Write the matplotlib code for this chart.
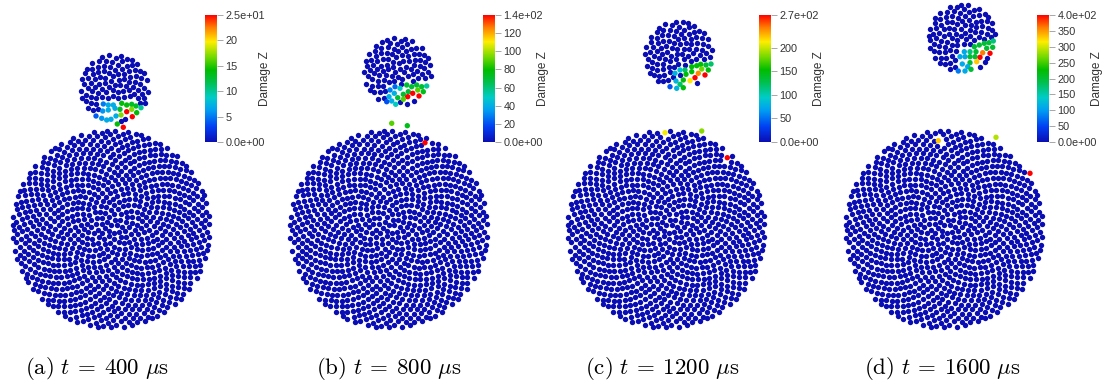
import numpy as np
import matplotlib.pyplot as plt
from matplotlib.colors import LinearSegmentedColormap, Normalize
from matplotlib.cm import ScalarMappable

plt.rcParams['mathtext.fontset'] = 'cm'

W, H = 1109, 390

# panel settings
labels = ['(a)', '(b)', '(c)', '(d)']
times = [400, 800, 1200, 1600]
z_max = [25, 140, 270, 400]
z_ticks = [
    [0, 5, 10, 15, 20, 25],
    [0, 20, 40, 60, 80, 100, 120, 140],
    [0, 50, 100, 150, 200, 270],
    [0, 50, 100, 150, 200, 250, 300, 350, 400],
]

# disk geometry (pixels)
big_centers = [(111, 229), (388.5, 229), (666, 229), (944, 229)]
big_radius = 98.5
big_count = 980
small_centers = [(114.5, 88.5), (397.5, 71.5), (678.5, 55), (962, 38)]
small_radius = 33.5
small_count = 122
small_spin = [0, 35, 70, 105]
caption_x = [97, 389, 662, 942]

# damaged particles per panel: x, y, damage
a_x = [103.3, 108.3, 113.3, 121.7, 126.7, 131.7, 136, 141, 102.7, 108.3, 115, 120,
       131.7, 136.7, 126.7, 121, 132.3, 96, 101.7, 106.7, 111, 116, 117.3, 123.3]
a_y = [104, 105, 105, 103.3, 105, 104.3, 106, 107.7, 111, 110, 108.3, 109.3,
       109.3, 112.7, 111.7, 115, 116.7, 116, 118.3, 120, 119.3, 116, 124, 127.3]
a_z = [5, 7, 7, 14, 14, 13, 13, 10, 6, 7, 7, 13,
       17, 14, 25, 17, 25, 4, 6, 7, 7, 7, 14, 25]

b_x = [390, 395, 400, 406.7, 411.7, 416.7, 421.7, 426.7, 394.3, 397.7, 403.3, 408.3,
       417.7, 423.3, 407.7, 412.7, 419, 403.3, 389, 391.7, 395.7, 386.7, 391.7, 407.3, 425]
b_y = [90, 86.7, 88.3, 85, 86.7, 85, 86.7, 86, 93.3, 97.7, 94.3, 91.7,
       90, 91.7, 96.7, 93.3, 96, 99.3, 96.7, 101, 104.3, 101.7, 123.3, 125.7, 142.7]
b_z = [30, 25, 50, 70, 70, 70, 70, 55, 40, 70, 70, 70,
       90, 75, 140, 140, 140, 90, 40, 40, 50, 20, 90, 75, 140]

c_x = [691.7, 696.7, 700.7, 706, 711, 680, 685, 675, 686, 691.7, 701.7, 708.3, 698.3,
       705, 695, 690, 683.3, 676, 680, 670, 676.7, 683.3, 665, 701.7, 727.3]
c_y = [66.7, 65.7, 64.3, 65, 64, 70, 70, 73.3, 74.3, 71.7, 69, 70, 73.3,
       75, 77.7, 80.7, 80, 81, 84.3, 86.7, 88.3, 87.7, 132.7, 131, 157.7]
c_z = [150, 150, 150, 135, 120, 90, 120, 80, 150, 150, 180, 150, 240,
       270, 270, 215, 150, 80, 120, 40, 80, 150, 210, 185, 270]

d_x = [974.3, 979.3, 984.3, 989, 993.3, 964.3, 970, 976, 986.7, 992.7, 982.7, 990, 960, 965,
       970, 975, 980, 970, 976.7, 962.3, 967.7, 971, 958.3, 965, 938.3, 996, 1030]
d_y = [46.7, 45, 43.3, 42.7, 41, 51.7, 51.7, 51.7, 48.3, 47.3, 52.7, 53.3, 56.7, 56.7,
       56.7, 56.7, 57.3, 62.7, 61.7, 64, 66.7, 69.3, 71, 71, 140.7, 137.3, 173.3]
d_z = [200, 200, 200, 200, 170, 110, 170, 200, 200, 200, 360, 400, 110, 110,
       200, 200, 400, 200, 330, 110, 110, 200, 80, 110, 330, 290, 400]

damaged = [(a_x, a_y, a_z), (b_x, b_y, b_z), (c_x, c_y, c_z), (d_x, d_y, d_z)]

# ParaView-like rainbow
cmap = LinearSegmentedColormap.from_list('damage', [
    (0.00, (0.04, 0.05, 0.70)),
    (0.12, (0.00, 0.25, 0.95)),
    (0.25, (0.00, 0.62, 0.95)),
    (0.35, (0.00, 0.80, 0.78)),
    (0.47, (0.00, 0.75, 0.30)),
    (0.57, (0.00, 0.74, 0.00)),
    (0.67, (0.45, 0.85, 0.00)),
    (0.79, (1.00, 0.93, 0.00)),
    (0.90, (1.00, 0.50, 0.00)),
    (1.00, (1.00, 0.00, 0.00)),
])


def disk_points(cx, cy, radius, n, spin=0.0, alpha=2.0):
    # sunflower packing with a ring of particles on the rim
    golden = np.pi * (3 - np.sqrt(5))
    k = np.arange(1, n + 1)
    b = int(round(alpha * np.sqrt(n)))
    r = np.where(k > n - b, 1.0, np.sqrt(k - 0.5) / np.sqrt(n - (b + 1) / 2))
    th = k * golden + np.radians(spin)
    return cx + radius * r * np.cos(th), cy + radius * r * np.sin(th)


fig = plt.figure(figsize=(W / 100, H / 100), dpi=100)
ax = fig.add_axes([0, 0, 1, 1])
ax.set_xlim(0, W)
ax.set_ylim(H, 0)
ax.set_aspect('equal')
ax.axis('off')

dot = 15
bar_left = [205, 483, 759, 1037]

for i in range(4):
    norm = Normalize(0, z_max[i])
    hx, hy, hz = [np.asarray(v, float) for v in damaged[i]]

    bx, by = disk_points(*big_centers[i], big_radius, big_count)
    sx, sy = disk_points(*small_centers[i], small_radius, small_count, small_spin[i])
    px = np.concatenate([bx, sx])
    py = np.concatenate([by, sy])

    # leave room for the damaged particles
    dist = np.hypot(px[:, None] - hx[None, :], py[:, None] - hy[None, :])
    keep = dist.min(axis=1) > 4.0
    ax.scatter(px[keep], py[keep], s=dot, c=[cmap(0.0)], linewidths=0)
    ax.scatter(hx, hy, s=dot, c=hz, cmap=cmap, norm=norm, linewidths=0, zorder=3)

    # colour bar
    cax = fig.add_axes([bar_left[i] / W, 1 - 142 / H, 12 / W, 127 / H])
    cb = fig.colorbar(ScalarMappable(norm=norm, cmap=cmap), cax=cax)
    cb.outline.set_visible(False)
    ticks = z_ticks[i]
    names = ['%d' % t for t in ticks]
    names[0] = '0.0e+00'
    names[-1] = '%.1e' % ticks[-1]
    cb.set_ticks(ticks)
    cb.set_ticklabels(names)
    cax.tick_params(length=4, width=0.6, color='#999999', pad=2,
                    labelsize=7.8, labelcolor='#333333')
    for t in cax.get_yticklabels():
        t.set_fontfamily('Liberation Sans')
    fig.text((bar_left[i] + 60) / W, 1 - 79 / H, 'Damage Z', rotation=90,
             ha='center', va='center', fontsize=8.5, color='#333333',
             family='Liberation Sans')

    fig.text(caption_x[i] / W, 1 - 368 / H,
             r'$\mathrm{%s}\ t\:=\:%d\ \mu\mathrm{s}$' % (labels[i], times[i]),
             ha='center', va='center', fontsize=16.5)

fig.savefig('out.png', dpi=100)
